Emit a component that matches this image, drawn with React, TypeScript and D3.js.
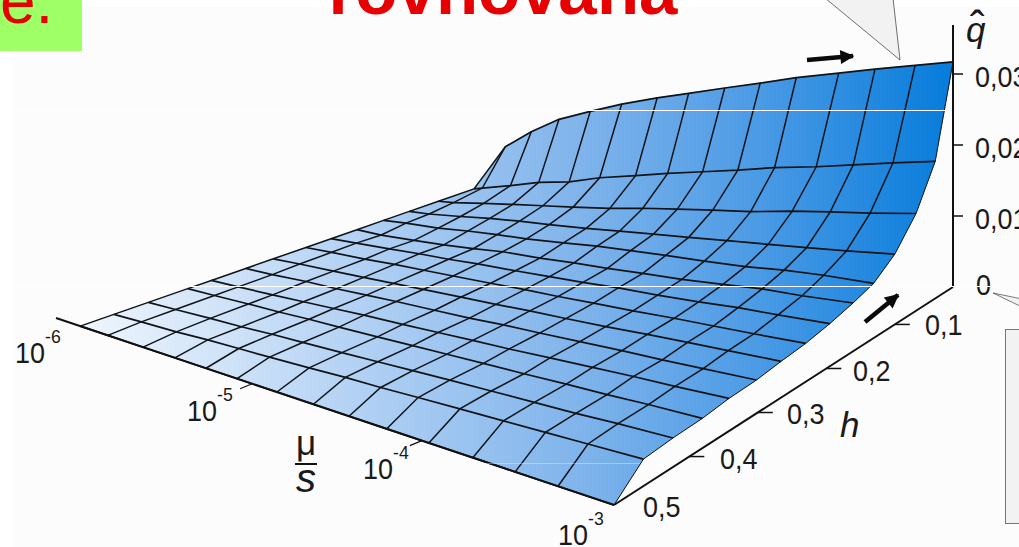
import * as d3 from 'd3'
import { useEffect, useRef } from 'react'

// mu/s value of each grid column, read on the front edge and on the back edge
const muFront = [1.35e-6, 1.9e-6, 2.94e-6, 4.35e-6, 6.4e-6, 9.4e-6, 1.54e-5, 2.42e-5, 3.76e-5, 6.0e-5, 1.01e-4, 1.74e-4, 2.94e-4, 5.0e-4, 1e-3]
const muBack = [1.35e-6, 1.35e-6, 1.98e-6, 2.98e-6, 4.73e-6, 7.52e-6, 1.27e-5, 2.02e-5, 3.44e-5, 5.81e-5, 9.89e-5, 1.85e-4, 3.16e-4, 5.71e-4, 1e-3]
// h value of each grid row, read on the right side and on the left side
const hRight = [0.51, 0.467, 0.424, 0.381, 0.342, 0.302, 0.266, 0.23, 0.195, 0.161, 0.131, 0.1, 0.069, 0.041, 0.015]
const hLeft = [0.51, 0.471, 0.431, 0.385, 0.358, 0.318, 0.286, 0.248, 0.219, 0.189, 0.158, 0.128, 0.094, 0.052, 0.015]

// q-hat, one row per h (front to back), one value per mu/s
const qRows = [
  [0, 0, 0, 0, 0, 0, 0, 0, 0, 0, 0, 0, 0, 0, 0],
  [0, .0002, .0004, .0007, .0009, .0011, .0014, .0017, .0019, .0022, .0025, .0028, .0031, .0034, .0038],
  [0, .0002, .0005, .0007, .001, .0012, .0015, .0018, .0021, .0024, .0027, .003, .0033, .0037, .0041],
  [0, .0002, .0005, .0007, .001, .0012, .0015, .0018, .0021, .0024, .0027, .0031, .0034, .0038, .0042],
  [0, .0002, .0005, .0008, .0011, .0014, .0017, .002, .0023, .0026, .003, .0034, .0038, .0041, .0046],
  [0, .0002, .0006, .0008, .0011, .0014, .0017, .002, .0024, .0027, .0031, .0035, .0038, .0042, .0047],
  [0, .0003, .0006, .0009, .0012, .0015, .0019, .0022, .0026, .0029, .0033, .0038, .0042, .0046, .0051],
  [0, .0003, .0006, .001, .0013, .0016, .002, .0024, .0027, .0031, .0035, .004, .0044, .0048, .0054],
  [0, .0003, .0007, .0011, .0014, .0018, .0022, .0026, .003, .0035, .0039, .0044, .005, .0054, .006],
  [0, .0001, .0005, .0009, .0014, .002, .0024, .0029, .0033, .0038, .0043, .005, .0057, .0061, .0068],
  [0, .0004, .0008, .0014, .0019, .0023, .003, .0037, .0042, .0047, .0052, .0058, .0066, .0072, .0077],
  [0, .0003, .001, .0017, .0023, .0028, .0035, .0042, .0049, .0056, .0064, .0072, .008, .0088, .0099],
  [0, .0003, .0012, .002, .0028, .0036, .0046, .0057, .0067, .0077, .0087, .0101, .0112, .0123, .0137],
  [0, .0004, .0017, .0031, .0042, .0058, .0073, .0087, .0101, .0115, .0131, .0146, .0161, .0177, .0193],
  [.0044, .0044, .0074, .0101, .0123, .0144, .0165, .0182, .0202, .0221, .0241, .0262, .028, .0299, .0317],
]

const qTicks = [0.01, 0.02, 0.03]
const qLabels = ['0,01', '0,02', '0,03']
const hTicks = [0.1, 0.2, 0.3, 0.4]
const muTicks = [1e-5, 1e-4]

const font = '"Liberation Sans", Arial, sans-serif'
const lerp = (a: number, b: number, t: number) => a + (b - a) * t

const muScale = d3.scaleLog().domain([1e-6, 1e-3]).range([0, 1])
const hScale = d3.scaleLinear().domain([0.51, 0.015]).range([0, 1])
const qScale = d3.scaleLinear().domain([0, 0.03]).range([287, 74])

// floor of the box, u along mu/s and v along h
function floor(u: number, v: number): [number, number] {
  const x = lerp(lerp(56, 485, v), lerp(614, 953, v), u)
  const y = lerp(lerp(318, 173, v), lerp(505, 287, v), u)
  return [x, y]
}

function node(i: number, j: number): [number, number] {
  const vr = hScale(hRight[j])
  const u = lerp(muScale(muFront[i]), muScale(muBack[i]), Math.pow(vr, 8))
  const v = lerp(hScale(hLeft[j]), vr, u)
  const [x, y] = floor(u, v)
  return [x, y - (qScale(0) - qScale(qRows[j][i]))]
}

function drawChart(el: SVGSVGElement) {
  const svg = d3.select(el)
  svg.selectAll('*').remove()

  const defs = svg.append('defs')
  const grad = defs.append('linearGradient').attr('id', 'surf')
    .attr('gradientUnits', 'userSpaceOnUse')
    .attr('x1', 80).attr('x2', 953).attr('y1', 0).attr('y2', 0)
  const stops: [number, string][] = [[0, '#eff6fd'], [0.31, '#b4d2f4'], [0.58, '#7eb3eb'], [0.78, '#4a9ae5'], [1, '#067cdb']]
  stops.forEach(s => grad.append('stop').attr('offset', s[0]).attr('stop-color', s[1]))

  svg.append('rect').attr('x', 12).attr('y', 7).attr('width', 1007).attr('height', 540).attr('fill', '#fcfcfc')
  svg.append('rect').attr('x', 0).attr('y', 0).attr('width', 82).attr('height', 51).attr('fill', '#9fff66')

  const addText = (s: string, x: number, y: number, size: number, extra: any = {}) => {
    const t = svg.append('text').attr('font-size', size)
      .attr('font-family', font).attr('fill', extra.fill || '#1a1a1a').text(s)
    // the picture is stretched upward a bit, so the digits are narrower than the font
    if (extra.squeeze) t.attr('transform', `translate(${x},${y}) scale(${extra.squeeze},1)`)
    else t.attr('x', x).attr('y', y)
    if (extra.weight) t.attr('font-weight', extra.weight)
    if (extra.italic) t.attr('font-style', 'italic')
    if (extra.anchor) t.attr('text-anchor', extra.anchor)
    return t
  }
  const num = { squeeze: 0.93 }

  addText('e.', 0, 23, 64, { fill: '#e60000' })
  addText('rovnováha', 503, 14, 69, { fill: '#e60000', weight: 'bold', anchor: 'middle' })

  // callouts from the slide behind the chart
  svg.append('polygon').attr('points', '825,-2 900,60 893,-2').attr('fill', '#f2f2f2').attr('stroke', '#333').attr('stroke-width', 0.7)
  svg.append('rect').attr('x', 1005.5).attr('y', 329.5).attr('width', 20).attr('height', 194).attr('fill', '#f2f2f2').attr('stroke', '#777')
  svg.append('polyline').attr('points', '1022,299 993,293 1022,307').attr('fill', '#f2f2f2').attr('stroke', '#444').attr('stroke-width', 0.7)

  // surface cells, back to front
  const g = svg.append('g')
  const rowIdx = d3.range(qRows.length)
  const colIdx = d3.range(muFront.length)
  for (let j = rowIdx.length - 2; j >= 0; j--) {
    for (let i = 0; i < colIdx.length - 1; i++) {
      const pts = [node(i, j), node(i + 1, j), node(i + 1, j + 1), node(i, j + 1)]
      g.append('polygon').attr('points', pts.map(p => p.join(',')).join(' '))
        .attr('fill', 'url(#surf)').attr('stroke', 'url(#surf)').attr('stroke-width', 0.5)
    }
  }
  const line = d3.line<[number, number]>().x(d => d[0]).y(d => d[1])
  rowIdx.forEach(j => {
    g.append('path').attr('d', line(colIdx.map(i => node(i, j))))
      .attr('fill', 'none').attr('stroke', '#101418').attr('stroke-width', 1.7)
  })
  colIdx.forEach(i => {
    g.append('path').attr('d', line(rowIdx.map(j => node(i, j))))
      .attr('fill', 'none').attr('stroke', '#101418').attr('stroke-width', i === colIdx.length - 1 ? 1 : 1.5)
  })

  // axes
  const axisLine = (a: [number, number], b: [number, number], w = 2) =>
    svg.append('line').attr('x1', a[0]).attr('y1', a[1]).attr('x2', b[0]).attr('y2', b[1])
      .attr('stroke', '#111').attr('stroke-width', w)
  axisLine(floor(0, 0), floor(1, 0))
  axisLine(floor(1, 0), floor(1, 1))
  axisLine([953, qScale(0)], [953, 25])

  qTicks.forEach((q, k) => {
    axisLine([953, qScale(q)], [963, qScale(q)], 1.5)
    addText(qLabels[k], 975, qScale(q) + 13, 29, num)
  })
  addText('0', 976, 295, 29, num)

  hTicks.forEach(h => {
    const p = floor(1, hScale(h))
    axisLine(p, [p[0] + 15, p[1]], 1.5)
  })
  const hLabelX = [925, 853, 787, 720]
  const hLabelY = [335, 381, 424, 469]
  hTicks.forEach((h, k) => addText(String(h).replace('.', ','), hLabelX[k], hLabelY[k], 29, num))
  addText('0,5', 643, 517, 29, num)
  addText('h', 840, 437, 35, { italic: true })

  // mu/s ticks; the printed ticks sit a little off the exact log position
  const muNudge = [0.018, -0.011]
  muTicks.forEach((m, k) => {
    const p = floor(muScale(m) + muNudge[k], 0)
    axisLine(p, [p[0] - 12, p[1] + 5], 1.2)
  })
  const expLabels = ['-6', '-5', '-4', '-3']
  const tenX = [15, 187, 363, 558]
  const tenY = [363, 421, 479, 545]
  expLabels.forEach((e, k) => {
    addText('10', tenX[k], tenY[k], 29, num)
    addText(e, tenX[k] + 30, tenY[k] - 20, 19, num)
  })

  addText('μ', 296, 455, 35)
  axisLine([295, 464], [317, 464], 2)
  addText('s', 296, 492, 40, { italic: true })

  addText('q', 966, 42, 35, { italic: true })
  addText('ˆ', 970, 42, 44)

  // arrows
  defs.append('marker').attr('id', 'head').attr('viewBox', '0 0 10 10').attr('refX', 9).attr('refY', 5)
    .attr('markerUnits', 'userSpaceOnUse').attr('markerWidth', 16).attr('markerHeight', 14).attr('orient', 'auto')
    .append('path').attr('d', 'M0,0L10,5L0,10Z').attr('fill', '#0a0a0a')
  const arrow = (x1: number, y1: number, x2: number, y2: number) =>
    svg.append('line').attr('x1', x1).attr('y1', y1).attr('x2', x2).attr('y2', y2)
      .attr('stroke', '#0a0a0a').attr('stroke-width', 4.5).attr('marker-end', 'url(#head)')
  arrow(807, 60, 853, 56)
  arrow(865, 322, 898, 295)

  // scan lines that cut across the reference
  const scan = (y: number, x1: number, x2: number, o: number) =>
    svg.append('line').attr('x1', x1).attr('x2', x2).attr('y1', y).attr('y2', y)
      .attr('stroke', '#fff').attr('stroke-opacity', o).attr('stroke-width', 1)
  scan(110.5, 12, 951, 1)
  scan(286.5, 12, 1000, 1)
  scan(463.5, 450, 640, 0.35)
}

export default function App() {
  const ref = useRef<SVGSVGElement>(null)
  useEffect(() => {
    if (ref.current) drawChart(ref.current)
  }, [])
  return (
    <svg ref={ref} width={1019} height={547}
      style={{ position: 'fixed', left: 0, top: 0, background: '#fff' }} />
  )
}
